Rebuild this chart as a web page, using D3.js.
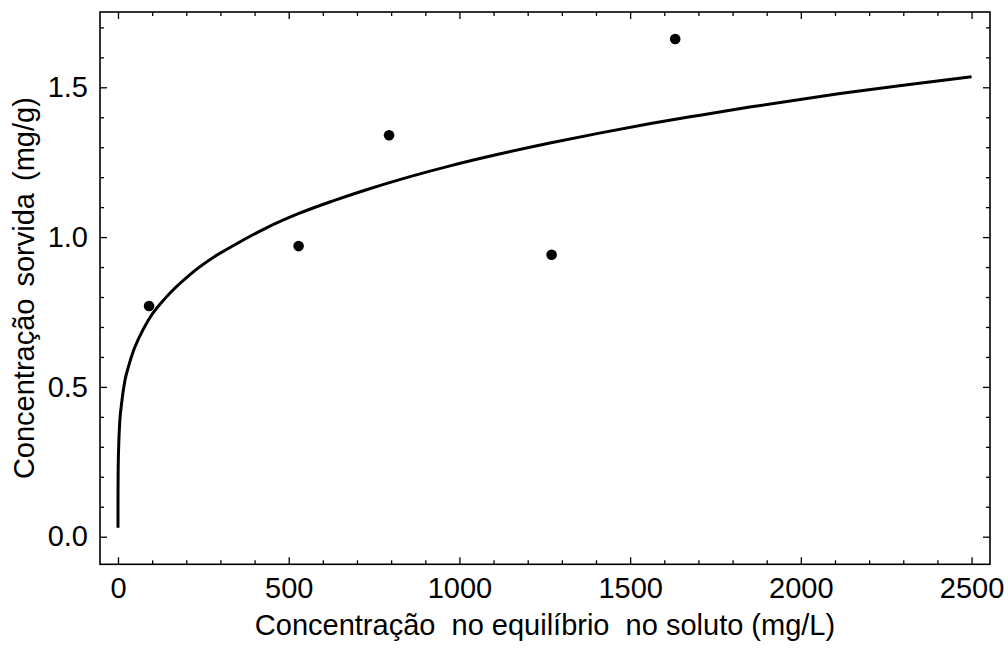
<!DOCTYPE html>
<html>
<head>
<meta charset="utf-8">
<script src="https://cdn.jsdelivr.net/npm/d3@7"></script>
<style>
  html, body { margin: 0; padding: 0; background: #fff; }
  svg { display: block; font-family: "Liberation Sans", Arial, sans-serif; }
</style>
</head>
<body>
<svg id="chart" width="1008" height="651"></svg>
<script>
// Measured sorption points: equilibrium concentration (mg/L) vs sorbed amount (mg/g)
const pointX = [91, 529, 794, 1270, 1632];
const pointY = [0.770, 0.970, 1.340, 0.941, 1.661];

// Fitted isotherm curve, sampled along its length
const curveX = [0, 0.01, 0.1, 0.5, 2, 5, 10, 20, 30, 45, 60, 90, 140, 210, 290, 340, 435, 530, 630, 730, 825, 970, 1120, 1265, 1410, 1560, 1705, 1850, 2115, 2300, 2500];
const curveY = [0.03, 0.09, 0.15, 0.22, 0.30, 0.38, 0.44, 0.52, 0.565, 0.62, 0.66, 0.725, 0.798, 0.874, 0.940, 0.973, 1.031, 1.079, 1.121, 1.159, 1.192, 1.237, 1.278, 1.314, 1.347, 1.379, 1.407, 1.434, 1.479, 1.507, 1.535];

// Tick values
const xMajorTicks = [0, 500, 1000, 1500, 2000, 2500];
const xMinorTicks = d3.range(0, 2501, 100).filter(v => v % 500 !== 0);
const yMajorTicks = [0, 0.5, 1.0, 1.5];
const yMinorTicks = [0.1, 0.2, 0.3, 0.4, 0.6, 0.7, 0.8, 0.9, 1.1, 1.2, 1.3, 1.4, 1.6, 1.7];

const xTitle = "Concentração  no equilíbrio  no soluto (mg/L)";
const yTitle = "Concentração sorvida (mg/g)";

const svg = d3.select("#chart");
const frame = { left: 100, right: 990, top: 12, bottom: 564.3 };

const x = d3.scaleLinear().domain([-52.7, 2554]).range([frame.left, frame.right]);
const y = d3.scaleLinear().domain([-0.0921, 1.7513]).range([frame.bottom, frame.top]);

const fontSize = 29;
const majorLen = 7, minorLen = 4;

function styleAxis(g) {
  g.select(".domain").remove();
  g.selectAll(".tick line").attr("stroke", "#000").attr("stroke-width", 1.3);
  g.selectAll(".tick text").attr("fill", "#000").attr("font-size", fontSize)
    .attr("font-family", "'Liberation Sans', Arial, sans-serif");
}

// Bottom axis (labelled) and minor ticks
svg.append("g").attr("transform", `translate(0,${frame.bottom})`)
  .call(d3.axisBottom(x).tickValues(xMajorTicks).tickSize(-majorLen).tickPadding(13).tickFormat(d3.format("d")))
  .call(styleAxis);
svg.append("g").attr("transform", `translate(0,${frame.bottom})`)
  .call(d3.axisBottom(x).tickValues(xMinorTicks).tickSize(-minorLen).tickFormat(""))
  .call(styleAxis);
// Top axis ticks
svg.append("g").attr("transform", `translate(0,${frame.top})`)
  .call(d3.axisTop(x).tickValues(xMajorTicks).tickSize(-majorLen).tickFormat(""))
  .call(styleAxis);
svg.append("g").attr("transform", `translate(0,${frame.top})`)
  .call(d3.axisTop(x).tickValues(xMinorTicks).tickSize(-minorLen).tickFormat(""))
  .call(styleAxis);
// Left axis (labelled) and minor ticks
svg.append("g").attr("transform", `translate(${frame.left},0)`)
  .call(d3.axisLeft(y).tickValues(yMajorTicks).tickSize(-majorLen).tickPadding(12).tickFormat(d3.format(".1f")))
  .call(styleAxis);
svg.append("g").attr("transform", `translate(${frame.left},0)`)
  .call(d3.axisLeft(y).tickValues(yMinorTicks).tickSize(-minorLen).tickFormat(""))
  .call(styleAxis);
// Right axis ticks
svg.append("g").attr("transform", `translate(${frame.right},0)`)
  .call(d3.axisRight(y).tickValues(yMajorTicks).tickSize(-majorLen).tickFormat(""))
  .call(styleAxis);
svg.append("g").attr("transform", `translate(${frame.right},0)`)
  .call(d3.axisRight(y).tickValues(yMinorTicks).tickSize(-minorLen).tickFormat(""))
  .call(styleAxis);

// Frame
svg.append("rect")
  .attr("x", frame.left).attr("y", frame.top)
  .attr("width", frame.right - frame.left).attr("height", frame.bottom - frame.top)
  .attr("fill", "none").attr("stroke", "#000").attr("stroke-width", 1.6);

// Fitted curve
const curveData = curveX.map((v, i) => [v, curveY[i]]);
svg.append("path")
  .datum(curveData)
  .attr("fill", "none")
  .attr("stroke", "#000")
  .attr("stroke-width", 3)
  .attr("stroke-linejoin", "round")
  .attr("d", d3.line().x(d => x(d[0])).y(d => y(d[1])).curve(d3.curveMonotoneX));

// Measured points
svg.append("g").selectAll("circle")
  .data(pointX.map((v, i) => [v, pointY[i]]))
  .join("circle")
  .attr("cx", d => x(d[0]))
  .attr("cy", d => y(d[1]))
  .attr("r", 5.3)
  .attr("fill", "#000");

// Axis titles
svg.append("text")
  .attr("x", (frame.left + frame.right) / 2)
  .attr("y", 635)
  .attr("text-anchor", "middle")
  .attr("font-size", fontSize)
  .attr("fill", "#000")
  .style("white-space", "pre")
  .text(xTitle);

svg.append("text")
  .attr("transform", `translate(34,${(frame.top + frame.bottom) / 2}) rotate(-90)`)
  .attr("text-anchor", "middle")
  .attr("font-size", fontSize)
  .attr("fill", "#000")
  .attr("word-spacing", 4)
  .style("white-space", "pre")
  .text(yTitle);
</script>
</body>
</html>
